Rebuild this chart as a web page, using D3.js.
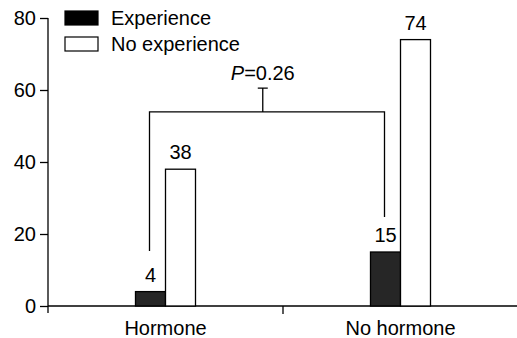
<!DOCTYPE html>
<html><head><meta charset="utf-8">
<script src="https://cdn.jsdelivr.net/npm/d3@7"></script>
<style>body{margin:0;background:#fff}svg{display:block}text{font-family:"Liberation Sans",Arial,sans-serif;fill:#000}</style>
</head><body><svg id="c" width="517" height="338"></svg>
<script>
const categories = ["Hormone", "No hormone"];
const seriesNames = ["Experience", "No experience"];
const experience = [4, 15];
const noExperience = [38, 74];
const yTicks = [0, 20, 40, 60, 80];
const pLabel = "0.26";
// bracket levels (value units)
const bracketLeftBottom = 15.3, bracketRightBottom = 24.7, bracketTop = 53.9, bracketCap = 60.5;

const svg = d3.select("#c");
const fs = 20;
const y = d3.scaleLinear().domain([0, 80]).range([306, 18]);
const x = d3.scaleBand().domain(categories).range([48, 518]);
const sub = d3.scaleBand().domain(seriesNames).range([0, 60]);
const bx = (ci, si) => x(categories[ci]) + x.bandwidth() / 2 - 30 + sub(seriesNames[si]);
const fills = ["#262626", "#fff"];

// y axis
const yAxis = d3.axisLeft(y).tickValues(yTicks).tickSize(8).tickPadding(4);
const gy = svg.append("g").attr("transform", "translate(48,0)").call(yAxis);
gy.select(".domain").attr("d", "M0,18V313").attr("stroke", "#000").attr("stroke-width", 1.3);
gy.selectAll(".tick line").attr("stroke", "#000").attr("stroke-width", 1.3);
gy.selectAll(".tick text").attr("font-size", fs).attr("font-family", "Liberation Sans,Arial,sans-serif").attr("fill", "#000");

// x axis
const xAxis = d3.axisBottom(x).tickSize(0).tickPadding(15);
const gx = svg.append("g").attr("transform", "translate(0,306)").call(xAxis);
gx.select(".domain").attr("d", "M48,0H517").attr("stroke", "#000").attr("stroke-width", 1.3);
gx.selectAll(".tick text").attr("font-size", fs).attr("font-family", "Liberation Sans,Arial,sans-serif").attr("fill", "#000").attr("dy", "0.71em");
// middle divider tick
const mid = x(categories[1]);
gx.append("line").attr("x1", mid).attr("x2", mid).attr("y1", 0).attr("y2", 8).attr("stroke", "#000").attr("stroke-width", 1.3);

// bars
const series = [experience, noExperience];
series.forEach((vals, si) => {
  svg.append("g").selectAll("rect").data(vals).join("rect")
    .attr("x", (d, ci) => bx(ci, si))
    .attr("y", d => y(d))
    .attr("width", sub.bandwidth())
    .attr("height", d => y(0) - y(d))
    .attr("fill", fills[si]).attr("stroke", "#000").attr("stroke-width", 1.3);
  svg.append("g").selectAll("text").data(vals).join("text")
    .attr("x", (d, ci) => bx(ci, si) + sub.bandwidth() / 2)
    .attr("y", d => y(d) - 10)
    .attr("text-anchor", "middle").attr("font-size", fs)
    .text(d => d);
});

// bracket
const lx = bx(0, 0) + sub.bandwidth() / 2 - 1;
const rx = bx(1, 0) + sub.bandwidth() / 2 - 1;
const cx = lx + 0.482 * (rx - lx);
const br = svg.append("g").attr("stroke", "#000").attr("stroke-width", 1.3).attr("fill", "none");
br.append("path").attr("d", `M${lx},${y(bracketLeftBottom)}V${y(bracketTop)}H${rx}V${y(bracketRightBottom)}`);
br.append("path").attr("d", `M${cx},${y(bracketTop)}V${y(bracketCap)}M${cx - 5},${y(bracketCap)}H${cx + 5}`);
const pt = svg.append("text").attr("x", cx).attr("y", y(bracketCap) - 8).attr("text-anchor", "middle").attr("font-size", fs);
pt.append("tspan").attr("font-style", "italic").text("P");
pt.append("tspan").text("=" + pLabel);

// legend
const lg = svg.append("g");
seriesNames.forEach((n, i) => {
  lg.append("rect").attr("x", 65).attr("y", 11 + i * 26).attr("width", 33).attr("height", 14)
    .attr("fill", i === 0 ? "#000" : "#fff").attr("stroke", "#000").attr("stroke-width", 1.2);
  lg.append("text").attr("x", 111).attr("y", 25 + i * 26).attr("font-size", fs).text(n);
});
</script></body></html>
